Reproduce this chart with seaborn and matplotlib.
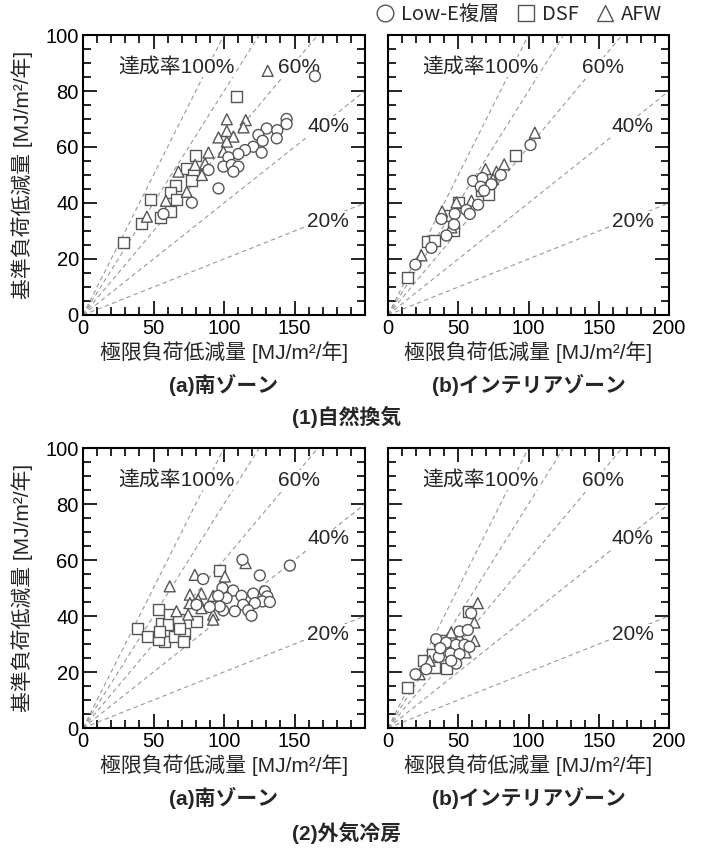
import numpy as np
import pandas as pd
import matplotlib
matplotlib.use('Agg')
import matplotlib.pyplot as plt
from matplotlib.lines import Line2D
import seaborn as sns

# series names
types = ['Low-E複層', 'DSF', 'AFW']

# (1)自然換気 (a)南ゾーン
tl_lowe_x = [164.5, 144.4, 144.4, 130.3, 137.8, 124.4, 137.4, 127.4, 120.8, 114.9, 110.2, 126.7,
             103.1, 99.6, 105.5, 110.2, 106.7, 89.0, 96.1, 77.2, 57.1]
tl_lowe_y = [85.3, 70.0, 68.2, 66.6, 66.0, 64.3, 63.1, 62.2, 60.1, 58.9, 57.5, 58.0,
             56.3, 53.0, 53.6, 53.0, 51.2, 51.8, 45.2, 40.1, 36.1]
tl_dsf_x = [109.0, 79.5, 73.6, 78.4, 77.2, 65.4, 61.8, 66.6, 47.7, 54.8, 61.8, 41.8, 28.8]
tl_dsf_y = [78.2, 57.1, 52.4, 50.3, 48.2, 46.4, 43.7, 41.3, 41.1, 34.9, 36.9, 32.7, 25.8]
tl_afw_x = [131.0, 102.0, 115.4, 113.8, 102.0, 106.7, 96.1, 102.0, 89.0, 99.6, 79.5, 86.6,
            67.7, 84.3, 73.6, 58.8, 45.3]
tl_afw_y = [87.2, 69.9, 69.6, 67.0, 65.7, 63.7, 63.4, 61.9, 58.0, 58.3, 53.6, 54.1,
            51.2, 50.0, 44.0, 40.8, 35.1]

# (1)自然換気 (b)インテリアゾーン
tr_lowe_x = [101.4, 60.6, 67.2, 80.3, 73.6, 66.0, 68.4, 64.1, 55.8, 47.5, 38.0, 41.6, 30.9,
             19.5, 47.0, 58.2]
tr_lowe_y = [60.7, 47.9, 48.9, 50.0, 46.7, 45.8, 44.4, 39.4, 37.5, 36.1, 34.3, 28.4, 24.0,
             18.0, 32.3, 36.1]
tr_dsf_x = [91.0, 13.8, 27.8, 49.9, 42.8, 66.5, 71.3, 46.3, 33.3]
tr_dsf_y = [57.1, 13.4, 26.4, 40.2, 35.5, 44.4, 43.2, 30.2, 26.6]
tr_afw_x = [104.5, 69.4, 77.2, 82.7, 48.7, 59.4, 38.5, 23.8, 45.1, 74.8]
tr_afw_y = [65.1, 52.1, 51.2, 53.8, 40.2, 40.8, 37.0, 21.3, 31.3, 48.5]

# (2)外気冷房 (a)南ゾーン
bl_lowe_x = [146.7, 113.1, 125.4, 85.2, 98.9, 106.5, 112.4, 120.7, 129.0, 130.7, 127.3, 132.5,
             121.9, 101.8, 95.9, 113.6, 107.7, 117.2, 119.5, 99.4, 97.0, 89.9, 80.5]
bl_lowe_y = [58.0, 60.1, 54.5, 53.2, 50.0, 49.1, 47.2, 48.0, 48.8, 47.0, 45.2, 45.0,
             44.6, 46.4, 47.2, 44.0, 41.7, 42.0, 40.1, 42.0, 43.4, 43.2, 44.0]
bl_dsf_x = [97.0, 38.6, 45.7, 53.5, 55.6, 61.5, 60.3, 57.9, 65.1, 72.2, 71.0, 67.5, 80.5,
            53.3, 54.4, 68.6]
bl_dsf_y = [56.2, 35.5, 32.7, 42.2, 37.5, 40.5, 36.9, 30.9, 32.7, 33.9, 30.9, 38.7, 38.1,
            31.5, 34.5, 35.7]
bl_afw_x = [61.5, 79.3, 100.6, 115.3, 75.8, 84.0, 92.3, 66.3, 74.6, 84.0, 92.3, 92.3, 75.8, 81.7]
bl_afw_y = [50.6, 54.7, 54.1, 58.9, 47.6, 48.0, 47.2, 41.7, 40.5, 42.8, 40.5, 38.7, 44.6, 45.8]

# (2)外気冷房 (b)インテリアゾーン
br_lowe_x = [59.2, 50.9, 56.8, 34.3, 41.4, 48.5, 54.4, 44.5, 36.2, 50.9, 58.0, 48.5, 27.2,
             19.6, 37.2, 45.0]
br_lowe_y = [41.0, 34.5, 35.0, 31.7, 30.5, 29.7, 29.7, 26.6, 25.4, 26.4, 29.0, 23.0, 21.0,
             19.2, 28.5, 24.0]
br_dsf_x = [57.5, 14.2, 24.9, 33.1, 41.4, 32.0, 40.2]
br_dsf_y = [41.7, 14.4, 24.0, 21.6, 21.3, 26.4, 31.1]
br_afw_x = [63.9, 61.5, 45.0, 61.5, 22.5, 29.6, 36.7, 50.9, 55.2]
br_afw_y = [44.6, 37.7, 34.1, 31.1, 19.2, 24.0, 31.1, 32.3, 27.0]

# achievement-rate guide lines
rates = [1.0, 0.8, 0.6, 0.4, 0.2]
rate_labels = ['達成率100%', '60%', '40%', '20%']
rate_label_xy = [(66, 88.5), (153, 88.5), (174, 67.5), (174, 33.5)]

xlabel = '極限負荷低減量 [MJ/m²/年]'
ylabel = '基準負荷低減量 [MJ/m²/年]'
sub_a = '(a)南ゾーン'
sub_b = '(b)インテリアゾーン'
group_titles = ['(1)自然換気', '(2)外気冷房']


def make_df(lx, ly, dx, dy, ax_, ay_):
    parts = []
    for name, xs, ys in [('DSF', dx, dy), ('AFW', ax_, ay_), ('Low-E複層', lx, ly)]:
        parts.append(pd.DataFrame({'x': xs, 'y': ys, 'type': name}))
    return pd.concat(parts, ignore_index=True)


panels = [
    make_df(tl_lowe_x, tl_lowe_y, tl_dsf_x, tl_dsf_y, tl_afw_x, tl_afw_y),
    make_df(tr_lowe_x, tr_lowe_y, tr_dsf_x, tr_dsf_y, tr_afw_x, tr_afw_y),
    make_df(bl_lowe_x, bl_lowe_y, bl_dsf_x, bl_dsf_y, bl_afw_x, bl_afw_y),
    make_df(br_lowe_x, br_lowe_y, br_dsf_x, br_dsf_y, br_afw_x, br_afw_y),
]

sns.set_style('ticks')
plt.rcParams['font.family'] = ['Liberation Sans', 'Noto Sans CJK JP']

W, H = 703, 848
fig = plt.figure(figsize=(W / 100, H / 100), dpi=100)

# pixel boxes: left, top, right, bottom
boxes = [(83, 35, 365, 315), (388, 35, 669, 315), (83, 448, 365, 728), (388, 448, 669, 728)]
markers = {'Low-E複層': 'o', 'DSF': 's', 'AFW': '^'}
edge = '#555555'

for i, (df, (l, t, r, b)) in enumerate(zip(panels, boxes)):
    ax = fig.add_axes([l / W, 1 - b / H, (r - l) / W, (b - t) / H])
    for k in rates:
        ax.plot([0, 200], [0, 200 * k], color='#999999', lw=0.8, dashes=(4, 3), zorder=1)
    for s, (tx, ty) in zip(rate_labels, rate_label_xy):
        ax.text(tx, ty, s, fontsize=15, ha='center', va='center', zorder=2,
                bbox=dict(facecolor='white', edgecolor='none', pad=0.3))
    sns.scatterplot(data=df, x='x', y='y', style='type', markers=markers, ax=ax,
                    color='white', edgecolor=edge, linewidth=1.0, s=62, legend=False, zorder=3)
    ax.set_xlim(0, 200)
    ax.set_ylim(0, 100)
    ax.set_xticks([0, 50, 100, 150, 200])
    ax.set_xticks(np.arange(0, 201, 10), minor=True)
    ax.set_yticks([0, 20, 40, 60, 80, 100])
    ax.set_yticks(np.arange(0, 101, 5), minor=True)
    if i % 2 == 0:
        ax.set_xticklabels(['0', '50', '100', '150', ''])
        ax.set_yticklabels(['0', '20', '40', '60', '80', '100'])
    else:
        ax.set_xticklabels(['0', '50', '100', '150', '200'])
        ax.set_yticklabels([])
    ax.tick_params(which='both', direction='in', top=True, right=True, labelsize=14.5,
                   width=1.2, colors='black')
    ax.tick_params(which='major', length=10, pad=3)
    ax.tick_params(which='minor', length=6)
    ax.set_xlabel('')
    ax.set_ylabel('')
    for sp in ax.spines.values():
        sp.set_linewidth(1.5)
        sp.set_color('black')

    cx = (l + r) / 2
    fig.text(cx / W, 1 - (b + 37) / H, xlabel, fontsize=15, ha='center', va='center')
    fig.text(cx / W, 1 - (b + 70) / H, sub_a if i % 2 == 0 else sub_b,
             fontsize=15, fontweight='bold', ha='center', va='center')
    if i % 2 == 0:
        fig.text(22 / W, 1 - ((t + b) / 2) / H, ylabel, fontsize=15, rotation=90,
                 ha='center', va='center')

fig.text(347 / W, 1 - 417 / H, group_titles[0], fontsize=15, fontweight='bold',
         ha='center', va='center')
fig.text(347 / W, 1 - 833 / H, group_titles[1], fontsize=15, fontweight='bold',
         ha='center', va='center')

handles = [Line2D([], [], ls='none', marker=markers[n], markersize=12, markerfacecolor='white',
                  markeredgecolor=edge, markeredgewidth=1.0, label=n) for n in types]
fig.legend(handles=handles, loc='upper right', bbox_to_anchor=(670 / W, 1 + 4 / H), ncol=3,
           frameon=False, handlelength=0.8, handletextpad=0.4, columnspacing=0.9,
           borderaxespad=0, prop={'family': ['Noto Sans CJK JP'], 'size': 14.5})

fig.savefig('out.png', dpi=100)
